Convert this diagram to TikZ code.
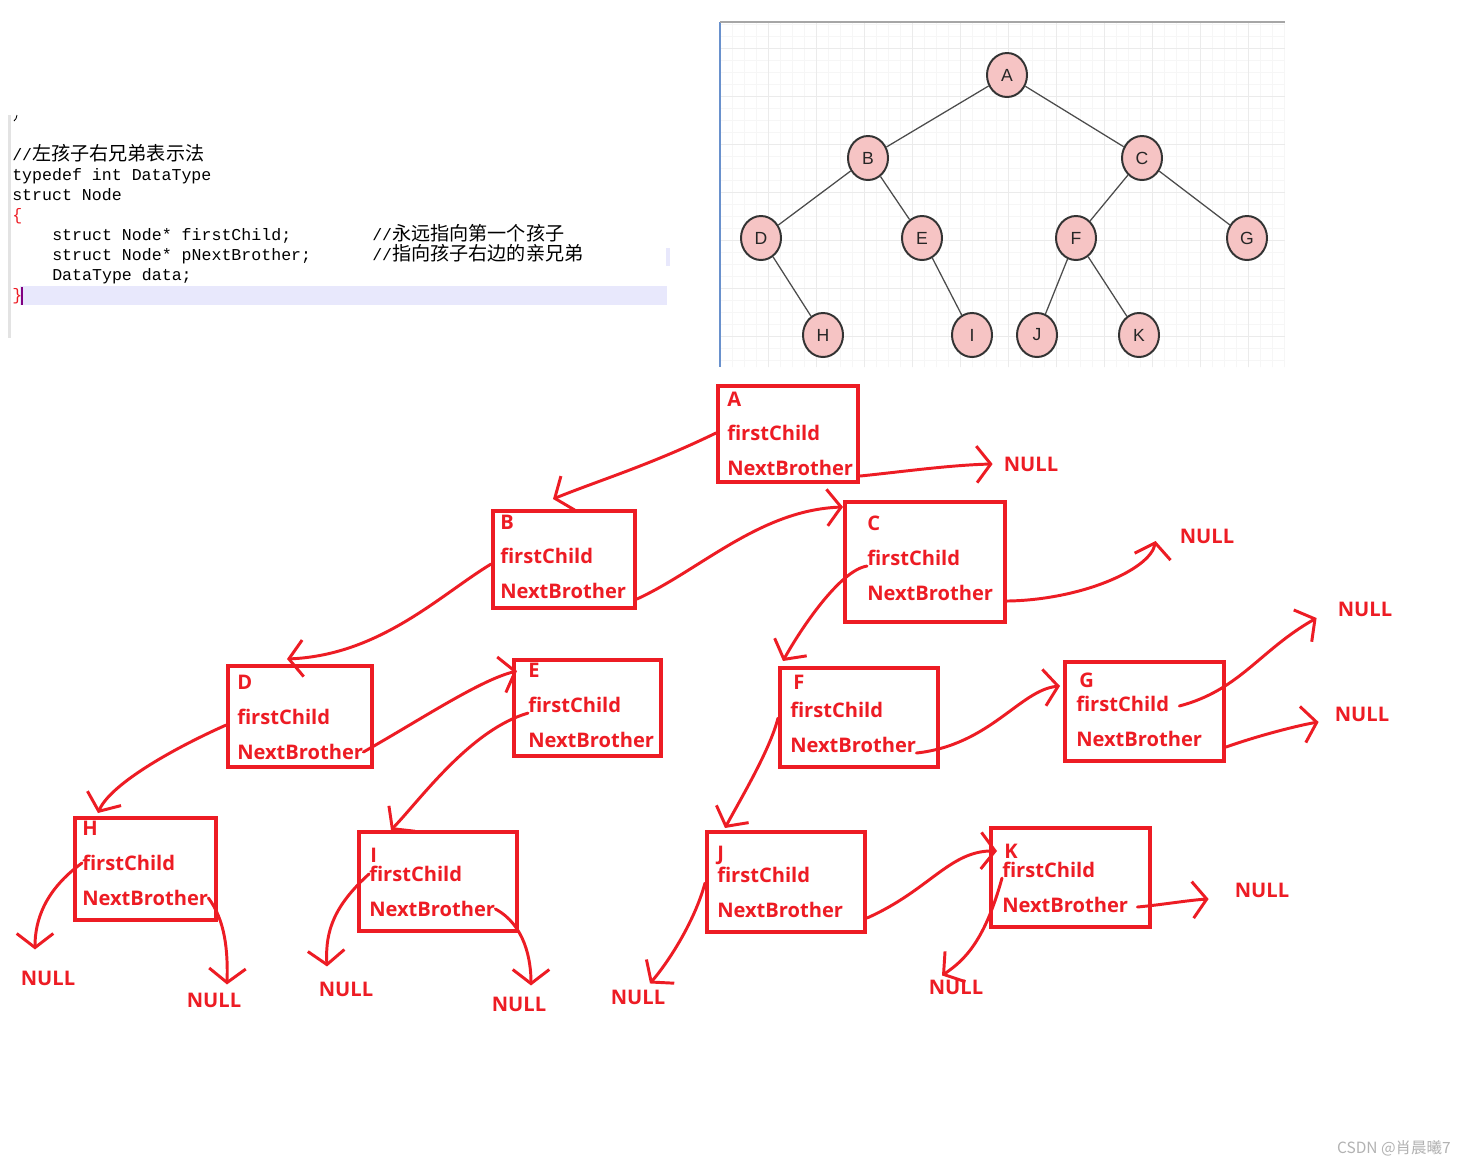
\documentclass[tikz,border=0pt]{standalone}
\usepackage{fontspec}
\setmainfont{Open Sans}
\newfontfamily\codefont{Liberation Mono}
\newfontfamily\cjk{Noto Sans CJK SC}
\newfontfamily\treefont{Liberation Sans}
\usetikzlibrary{arrows.meta, shapes.geometric, positioning, fit, calc}
\definecolor{paintred}{RGB}{237,28,36}
\definecolor{nodepink}{RGB}{246,196,196}
\definecolor{bandblue}{RGB}{232,232,252}
\definecolor{edgeblue}{RGB}{105,145,205}
\newcommand\cjktext[1]{{\cjk\fontsize{13.6}{15}\selectfont #1}}
\tikzset{
  recbox/.style={
    draw=paintred, line width=2.85pt, inner sep=0pt
  },
  field/.style={
    anchor=west, inner sep=0pt, text=paintred,
    font=\fontsize{14.3}{16}\selectfont\bfseries
  },
  nullmark/.style={
    inner sep=0pt, text=paintred,
    font=\fontsize{14.3}{16}\selectfont\bfseries
  },
  ptr/.style={
    draw=paintred, line width=2.1pt, line cap=round,
    -{Straight Barb[length=10pt, width=26pt]}
  },
  codeline/.style={
    anchor=base west, inner sep=0pt,
    font=\codefont\fontsize{11.8}{14}\selectfont
  },
  treenode/.style={
    ellipse, draw=gray!40!black, line width=1.4pt, fill=nodepink,
    minimum width=1cm, minimum height=1.1cm, inner sep=0pt,
    font=\treefont\fontsize{12.5}{14}\selectfont, text=gray!30!black
  },
  treeedge/.style={draw=gray!60!black, line width=0.9pt},
  gridminor/.style={draw=gray!7, line width=0.4pt},
  gridmajor/.style={draw=gray!16, line width=0.5pt},
}

\begin{document}
\begin{tikzpicture}[x=0.025cm, y=-0.025cm]
\useasboundingbox[fill=white] (0,0) rectangle (1466,1166);

% code snippet
\fill[gray!22] (8,115) rectangle (11,338);
\fill[bandblue] (20,286) rectangle (667,305);
\fill[bandblue] (666,248) rectangle (670,266);
\draw[violet, line width=0.8pt] (22,287) -- (22,305);
\draw[line width=0.6pt] (17,115) .. controls (16,119) .. (14,121);
\node[codeline] (cm0) at (12,160) {//\cjktext{左孩子右兄弟表示法}};
\node[codeline] (cm1) at (12,180) {typedef int DataType};
\node[codeline] (cm2) at (12,200) {struct Node};
\node[codeline, text=paintred] (cm3) at (12,220) {\{};
\node[codeline] (cm4) at (52,240) {struct Node* firstChild;};
\node[codeline] (cm4c) at (372,240) {//\cjktext{永远指向第一个孩子}};
\node[codeline] (cm5) at (52,260) {struct Node* pNextBrother;};
\node[codeline] (cm5c) at (372,260) {//\cjktext{指向孩子右边的亲兄弟}};
\node[codeline] (cm6) at (52,280) {DataType data;};
\node[codeline, text=paintred] (cm7) at (12,300) {\}};

% tree picture
\fill[white] (720,22) rectangle (1285,367);
\draw[gridminor, step=0.3cm] (720,22) grid (1285,367);
\draw[gridmajor, step=1.2cm] (720,22) grid (1285,367);
\draw[edgeblue, line width=1pt] (720,22) -- (720,367);
\draw[gray!70, line width=0.8pt] (720,22) -- (1285,22);

\node[treenode] (tA) at (1007,75) {A};
\node[treenode] (tB) at (868,158) {B};
\node[treenode] (tC) at (1142,158) {C};
\node[treenode] (tD) at (761,238) {D};
\node[treenode] (tE) at (922,238) {E};
\node[treenode] (tF) at (1076,238) {F};
\node[treenode] (tG) at (1247,238) {G};
\node[treenode] (tH) at (823,335) {H};
\node[treenode] (tI) at (972,335) {I};
\node[treenode] (tJ) at (1037,335) {J};
\node[treenode] (tK) at (1139,335) {K};
\draw[treeedge] (tA) -- (tB);
\draw[treeedge] (tA) -- (tC);
\draw[treeedge] (tB) -- (tD);
\draw[treeedge] (tB) -- (tE);
\draw[treeedge] (tC) -- (tF);
\draw[treeedge] (tC) -- (tG);
\draw[treeedge] (tD) -- (tH);
\draw[treeedge] (tE) -- (tI);
\draw[treeedge] (tF) -- (tJ);
\draw[treeedge] (tF) -- (tK);

% child-sibling boxes
\node[recbox, fit={(718,386) (858,482)}] (A) {};
\node[recbox, fit={(493,511) (635,608)}] (B) {};
\node[recbox, fit={(845,502) (1005,622)}] (C) {};
\node[recbox, fit={(228,666) (372,767)}] (D) {};
\node[recbox, fit={(514,660) (661,756)}] (E) {};
\node[recbox, fit={(780,668) (938,767)}] (F) {};
\node[recbox, fit={(1065,662) (1224,761)}] (G) {};
\node[recbox, fit={(75,818) (216,920)}] (H) {};
\node[recbox, fit={(359,832) (517,931)}] (I) {};
\node[recbox, fit={(707,832) (865,932)}] (J) {};
\node[recbox, fit={(991,828) (1150,927)}] (K) {};

\node[field] (Aid) at (727,399) {A};
\node[field] (Afc) at (727,433) {firstChild};
\node[field] (Anb) at (727,468) {NextBrother};
\node[field] (Bid) at (500,522) {B};
\node[field] (Bfc) at (500,556) {firstChild};
\node[field] (Bnb) at (500,591) {NextBrother};
\node[field] (Cid) at (867,523) {C};
\node[field] (Cfc) at (867,558) {firstChild};
\node[field] (Cnb) at (867,593) {NextBrother};
\node[field] (Did) at (237,682) {D};
\node[field] (Dfc) at (237,717) {firstChild};
\node[field] (Dnb) at (237,752) {NextBrother};
\node[field] (Eid) at (528,670) {E};
\node[field] (Efc) at (528,705) {firstChild};
\node[field] (Enb) at (528,740) {NextBrother};
\node[field] (Fid) at (793,682) {F};
\node[field] (Ffc) at (790,710) {firstChild};
\node[field] (Fnb) at (790,745) {NextBrother};
\node[field] (Gid) at (1079,680) {G};
\node[field] (Gfc) at (1076,704) {firstChild};
\node[field] (Gnb) at (1076,739) {NextBrother};
\node[field] (Hid) at (82,828) {H};
\node[field] (Hfc) at (82,863) {firstChild};
\node[field] (Hnb) at (82,898) {NextBrother};
\node[field] (Iid) at (370,855) {I};
\node[field] (Ifc) at (369,874) {firstChild};
\node[field] (Inb) at (369,909) {NextBrother};
\node[field] (Jid) at (717,855) {J};
\node[field] (Jfc) at (717,875) {firstChild};
\node[field] (Jnb) at (717,910) {NextBrother};
\node[field] (Kid) at (1004,851) {K};
\node[field] (Kfc) at (1002,870) {firstChild};
\node[field] (Knb) at (1002,905) {NextBrother};

\node[nullmark] (nA) at (1031,464) {NULL};
\node[nullmark] (nC) at (1207,536) {NULL};
\node[nullmark] (nG1) at (1365,609) {NULL};
\node[nullmark] (nG2) at (1362,714) {NULL};
\node[nullmark] (nH1) at (48,978) {NULL};
\node[nullmark] (nH2) at (214,1000) {NULL};
\node[nullmark] (nI1) at (346,989) {NULL};
\node[nullmark] (nI2) at (519,1004) {NULL};
\node[nullmark] (nJ1) at (638,997) {NULL};
\node[nullmark] (nK1) at (956,987) {NULL};
\node[nullmark] (nK2) at (1262,890) {NULL};

% pointers
\draw[ptr] (A.west |- Afc) .. controls (650,465) and (600,480) .. ($(B.north)+(-11,-10)$);
\draw[ptr] (A.east |- Anb.south) .. controls (900,472) and (950,465) .. ($(nA.west)+(-11,0)$);
\draw[ptr] (B.west |- Bfc.south) .. controls (440,595) and (380,655) .. ($(D.north)+(-13,-5)$);
\draw[ptr] (B.east |- Bnb.south) .. controls (700,570) and (760,510) .. ($(C.north west)+(0,7)$);
\draw[ptr] (Cfc.south west) .. controls (840,570) and (800,630) .. ($(F.north west)+(5,-5)$);
\draw[ptr] (C.east |- Cnb.south) .. controls (1080,600) and (1150,570) .. ($(nC.west)+(-24,5)$);
\draw[ptr] (D.west |- Dfc.south) .. controls (170,750) and (110,785) .. ($(H.north west)+(25,-3)$);
\draw[ptr] (Dnb.east) .. controls (420,720) and (480,680) .. ($(Eid.west)+(-11,1)$);
\draw[ptr] (Efc.south west) .. controls (470,730) and (420,800) .. ($(I.north west)+(34,0)$);
\draw[ptr] (F.west |- Ffc.south) .. controls (770,750) and (740,800) .. ($(J.north west)+(20,-2)$);
\draw[ptr] (Fnb.south east) .. controls (990,745) and (1020,690) .. ($(G.north west)+(-3,26)$);
\draw[ptr] ($(Gfc.east)+(10,2)$) .. controls (1240,690) and (1260,650) .. ($(nG1.west)+(-21,9)$);
\draw[ptr] (G.east |- Gnb.south) .. controls (1260,735) and (1300,725) .. ($(nG2.west)+(-16,8)$);
\draw[ptr] (Hfc.west) .. controls (45,890) and (35,920) .. ($(nH1.north)+(-13,-21)$);
\draw[ptr] (Hnb.east) .. controls (225,920) and (228,950) .. ($(nH2.north)+(13,-8)$);
\draw[ptr] (Ifc.west) .. controls (335,905) and (325,930) .. ($(nI1.north)+(-19,-15)$);
\draw[ptr] (Inb.east) .. controls (525,925) and (531,960) .. ($(nI2.north)+(12,-11)$);
\draw[ptr] (J.west |- Jfc.south) .. controls (695,920) and (670,960) .. ($(nJ1.north)+(12,-6)$);
\draw[ptr] (J.east |- Jnb.south) .. controls (930,890) and (950,850) .. ($(K.north west)+(8,25)$);
\draw[ptr] (Kfc.south west) .. controls (985,940) and (965,960) .. ($(nK1.north)+(-14,-4)$);
\draw[ptr] ($(Knb.east)+(9,2)$) .. controls (1160,905) and (1190,900) .. ($(nK2.west)+(-26,9)$);

\node[anchor=east, inner sep=0pt, text=gray!60, font=\cjk\fontsize{11}{13}\selectfont] (mark) at (1451,1148) {CSDN @肖晨曦7};
\end{tikzpicture}
\end{document}
